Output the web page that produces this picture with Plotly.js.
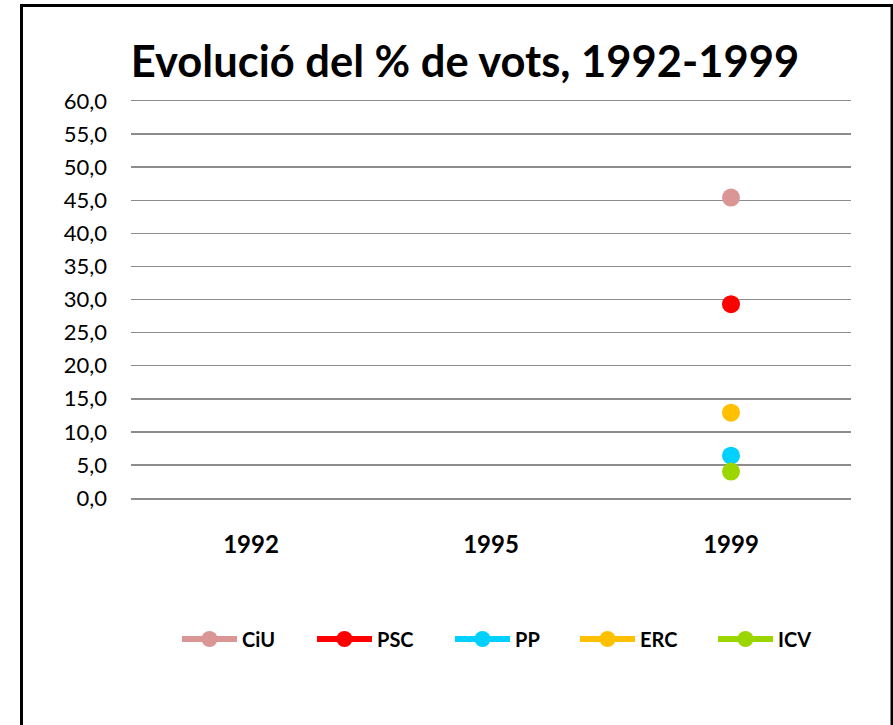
<!DOCTYPE html>
<html>
<head>
<meta charset="utf-8">
<script src="https://cdn.plot.ly/plotly-3.0.1.min.js"></script>
<style>html,body{margin:0;padding:0;background:#fff;}#chart{width:893px;height:725px;}</style>
</head>
<body>
<div id="chart"></div>
<script>
const years = ['1992', '1995', '1999'];
const parties = ['CiU', 'PSC', 'PP', 'ERC', 'ICV'];
const ciu = [null, null, 45.4];
const psc = [null, null, 29.3];
const pp  = [null, null, 6.4];
const erc = [null, null, 12.9];
const icv = [null, null, 4.0];
const series = [ciu, psc, pp, erc, icv];
const colors = ['#D99694', '#FF0000', '#00D0FF', '#FFC000', '#9BD600'];
const yTicks = [0, 5, 10, 15, 20, 25, 30, 35, 40, 45, 50, 55, 60];

const FONT = 'Lato, "Open Sans", sans-serif';
const plotL = 131, plotR = 851, plotT = 101, plotB = 498.3, W = 893, H = 725;
const pw = plotR - plotL, ph = plotB - plotT;
const px = x => (x - plotL) / pw;
const py = y => (plotB - y) / ph;

const legendX = [182, 317, 455, 580, 718];
const legendNames = ['legend', 'legend2', 'legend3', 'legend4', 'legend5'];

const traces = parties.map((p, i) => ({
  type: 'scatter',
  mode: 'lines+markers',
  name: p,
  x: years,
  y: series[i],
  line: {color: colors[i], width: 6},
  marker: {color: colors[i], size: 18},
  legend: legendNames[i],
  hoverinfo: 'skip'
}));

const layout = {
  width: W, height: H,
  margin: {l: plotL, r: W - plotR, t: plotT, b: H - plotB},
  paper_bgcolor: '#ffffff',
  plot_bgcolor: '#ffffff',
  separators: ',.',
  showlegend: true,
  title: {
    text: '<b>Evolució del % de vots, 1992-1999</b>',
    font: {family: FONT, size: 43.5, color: '#000000'},
    x: 465 / W, xref: 'container', xanchor: 'center',
    y: 1 - 62 / H, yref: 'container', yanchor: 'middle'
  },
  xaxis: {
    type: 'category',
    categoryorder: 'array',
    categoryarray: years,
    range: [-0.5, 2.5],
    showgrid: false,
    zeroline: false,
    showline: true,
    mirror: true,
    linecolor: '#8C8C8C',
    linewidth: 1.5,
    ticks: '',
    tickfont: {family: FONT, size: 24, color: '#000000', weight: 'bold'},
    ticklabelstandoff: 25,
    fixedrange: true
  },
  yaxis: {
    range: [0, 60],
    tickmode: 'array',
    tickvals: yTicks,
    tickformat: '.1f',
    showgrid: true,
    gridcolor: '#8C8C8C',
    gridwidth: 1.5,
    zeroline: false,
    showline: false,
    ticks: '',
    tickfont: {family: FONT, size: 22, color: '#000000'},
    ticklabelstandoff: 23,
    fixedrange: true
  },
  shapes: [{
    type: 'rect', xref: 'paper', yref: 'paper',
    x0: px(21.5), x1: px(892), y0: py(740), y1: py(5.5),
    line: {color: '#000000', width: 3},
    fillcolor: 'rgba(0,0,0,0)',
    layer: 'below'
  }]
};

legendNames.forEach((ln, i) => {
  layout[ln] = {
    x: (legendX[i] - 5) / W, xref: 'container', xanchor: 'left',
    y: 1 - 639 / H, yref: 'container', yanchor: 'middle',
    orientation: 'h',
    bgcolor: 'rgba(0,0,0,0)',
    borderwidth: 0,
    itemwidth: 55,
    font: {family: FONT, size: 20, color: '#000000', weight: 'bold'}
  };
});

Plotly.newPlot('chart', traces, layout, {displayModeBar: false, staticPlot: true});
</script>
</body>
</html>
